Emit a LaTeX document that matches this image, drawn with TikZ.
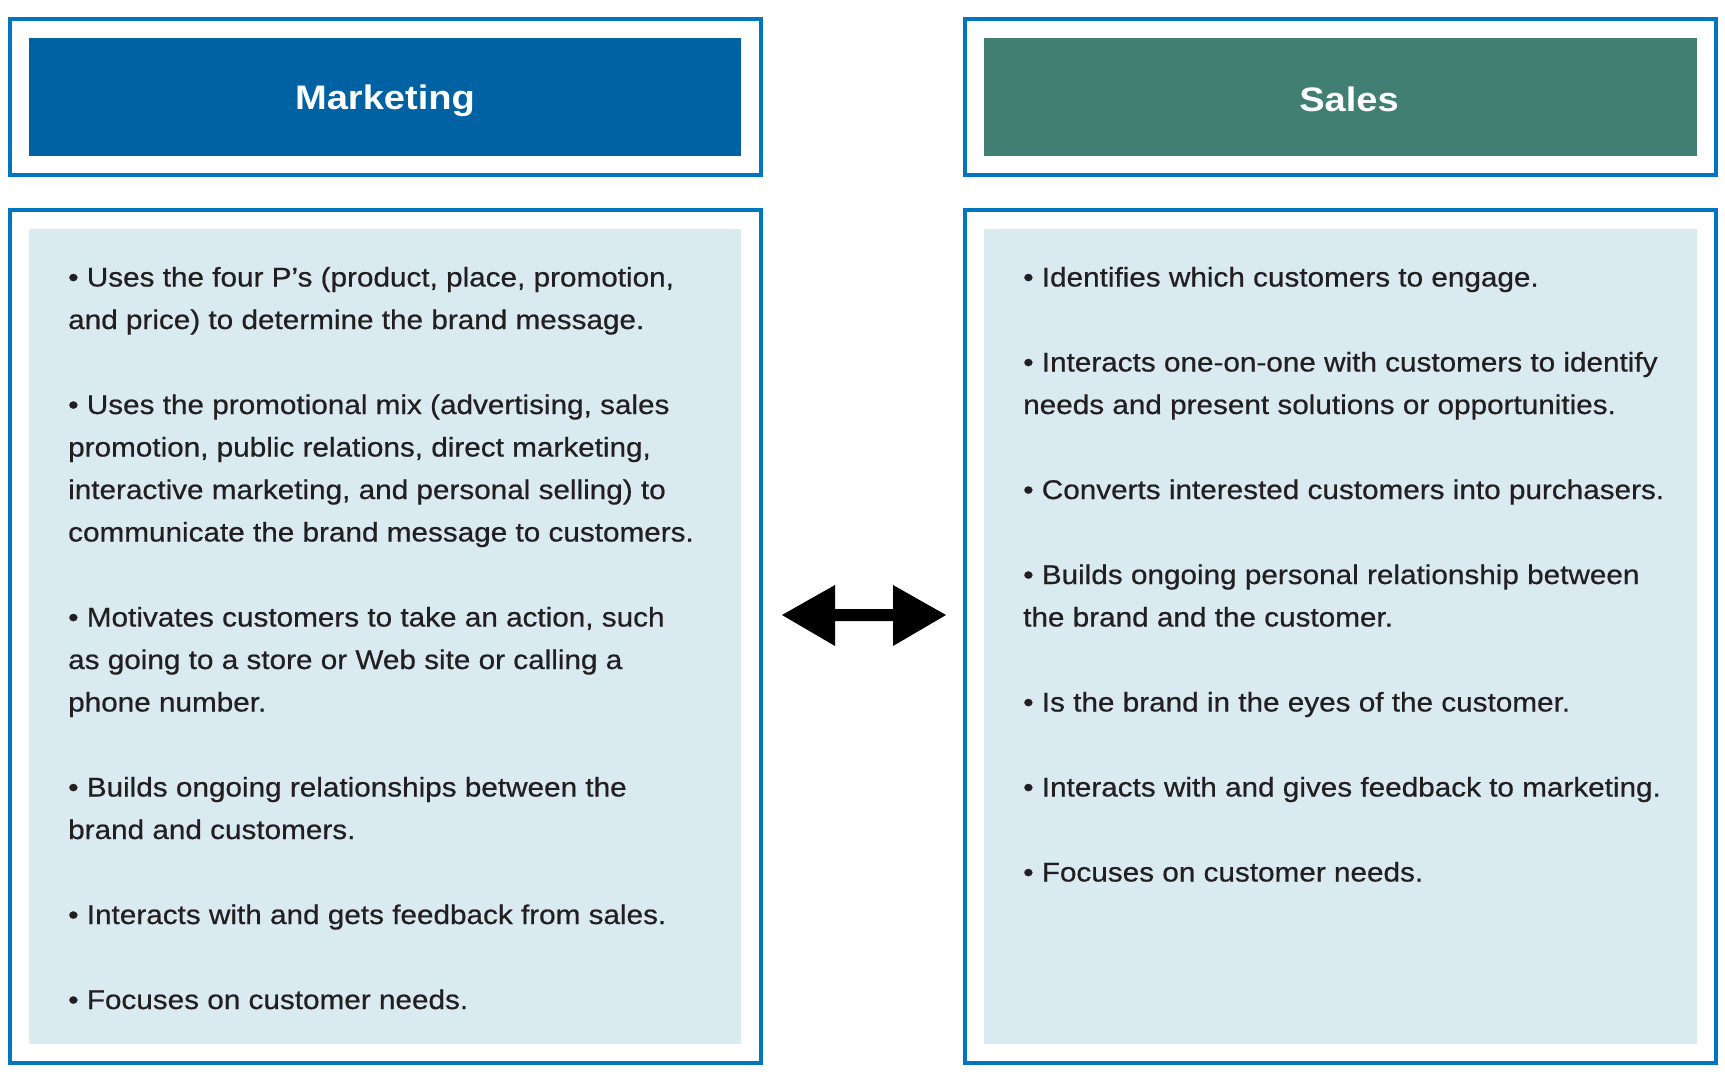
\documentclass[tikz,border=0pt]{standalone}
\usepackage{fontspec}
\setmainfont{Liberation Sans}
\newfontfamily\bodyfont[FakeStretch=1.10,FakeBold=0.6]{Liberation Sans}
\newfontfamily\headfont[FakeStretch=1.12]{Liberation Sans Bold}
\definecolor{frameblue}{RGB}{0,118,190}
\definecolor{mkblue}{RGB}{0,98,163}
\definecolor{slgreen}{RGB}{64,127,114}
\definecolor{panelbg}{RGB}{217,234,241}
\definecolor{txt}{RGB}{35,31,32}
\begin{document}
\begin{tikzpicture}[x=1pt,y=-1pt,
  frame/.style={draw=frameblue,line width=4.5pt,fill=white},
  headtext/.style={anchor=base,inner sep=0pt,font=\headfont\fontsize{34}{40}\selectfont,text=white},
  bodyline/.style={anchor=base west,inner sep=0pt,font=\bodyfont\fontsize{27}{30}\selectfont,text=txt}]
\useasboundingbox (0,0) rectangle (1725,1092);
\fill[white] (0,0) rectangle (1725,1092);
% frames
\draw[frame] (10,19) rectangle (761,175);
\draw[frame] (965,19) rectangle (1716,175);
\draw[frame] (10,210) rectangle (761,1063);
\draw[frame] (965,210) rectangle (1716,1063);
% header fills
\fill[mkblue] (29,38) rectangle (741,156);
\fill[slgreen] (984,38) rectangle (1697,156);
\node[headtext] (mk) at (385,109) {Marketing};
\node[headtext] (sl) at (1349,111) {Sales};
% panel fills
\fill[panelbg] (29,229) rectangle (741,1044);
\fill[panelbg] (984,229) rectangle (1697,1044);
% left text
\foreach \k/\t [count=\n] in {
 0/{• Uses the four P’s (product, place, promotion,},
 1/{and price) to determine the brand message.},
 3/{• Uses the promotional mix (advertising, sales},
 4/{promotion, public relations, direct marketing,},
 5/{interactive marketing, and personal selling) to},
 6/{communicate the brand message to customers.},
 8/{• Motivates customers to take an action, such},
 9/{as going to a store or Web site or calling a},
 10/{phone number.},
 12/{• Builds ongoing relationships between the},
 13/{brand and customers.},
 15/{• Interacts with and gets feedback from sales.},
 17/{• Focuses on customer needs.}}
 \node[bodyline] (ml\n) at (68,286.5+42.5*\k) {\t};
% right text
\foreach \k/\t [count=\n] in {
 0/{• Identifies which customers to engage.},
 2/{• Interacts one-on-one with customers to identify},
 3/{needs and present solutions or opportunities.},
 5/{• Converts interested customers into purchasers.},
 7/{• Builds ongoing personal relationship between},
 8/{the brand and the customer.},
 10/{• Is the brand in the eyes of the customer.},
 12/{• Interacts with and gives feedback to marketing.},
 14/{• Focuses on customer needs.}}
 \node[bodyline] (sl\n) at (1023,286.5+42.5*\k) {\t};
% double arrow
\coordinate (aL) at (782,615);
\coordinate (aR) at (946,615);
\fill[black] (aL) -- (835,585) -- (835,609) -- (893,609) -- (893,585) -- (aR)
  -- (893,646) -- (893,621) -- (835,621) -- (835,646) -- cycle;
\end{tikzpicture}
\end{document}
